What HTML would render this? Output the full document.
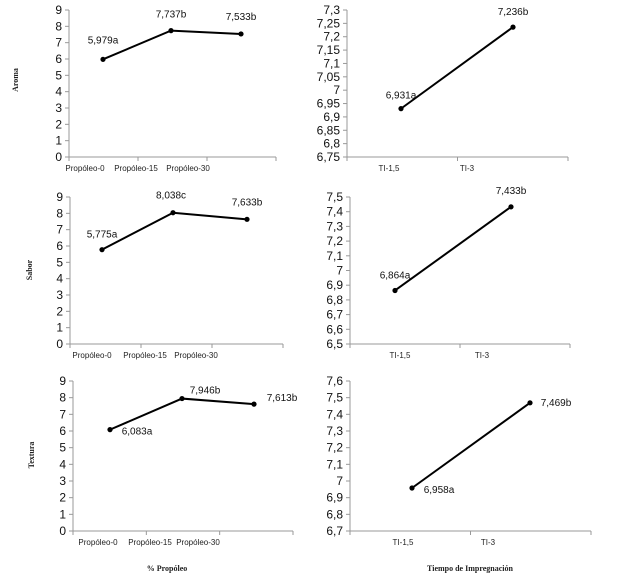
<!DOCTYPE html>
<html><head><meta charset="utf-8"><style>
body{margin:0;background:#fff;}
svg{display:block;font-family:"Liberation Sans",sans-serif;}
</style></head><body>
<svg id="c" width="617" height="586"></svg>
<script>
const propCats = ["Propóleo-0","Propóleo-15","Propóleo-30"];
const tiCats = ["TI-1,5","TI-3"];
const aromaValues = [5.979, 7.737, 7.533];
const aromaLabels = ["5,979a","7,737b","7,533b"];
const saborValues = [5.775, 8.038, 7.633];
const saborLabels = ["5,775a","8,038c","7,633b"];
const texturaValues = [6.083, 7.946, 7.613];
const texturaLabels = ["6,083a","7,946b","7,613b"];
const aromaTiValues = [6.931, 7.236];
const aromaTiLabels = ["6,931a","7,236b"];
const saborTiValues = [6.864, 7.433];
const saborTiLabels = ["6,864a","7,433b"];
const texturaTiValues = [6.958, 7.469];
const texturaTiLabels = ["6,958a","7,469b"];

const svg = document.getElementById('c');
const NS = "http://www.w3.org/2000/svg";
function mk(tag, attrs, parent){const e=document.createElementNS(NS,tag);for(const k in attrs)e.setAttribute(k,attrs[k]);(parent||svg).appendChild(e);return e;}
function txt(s,x,y,size,anchor,parent,extra){const t=mk('text',Object.assign({x:x,y:y,'font-size':size,'text-anchor':anchor||'middle',fill:'#222'},extra||{}),parent);t.textContent=s;return t;}

function panel(o){
  const g=mk('g',{});
  
  
  const y=v=>o.y0+(o.ymax-v)/(o.ymax-o.ymin)*(o.y1-o.y0);
  const ax=mk('line',{x1:o.x0,y1:o.y0,x2:o.x0,y2:o.y1,stroke:'#999','stroke-width':1},g);
  
  
  const bx=mk('line',{x1:o.x0,y1:o.y1,x2:o.x1,y2:o.y1,stroke:'#999','stroke-width':1},g);
  
  
  const n=Math.round((o.ymax-o.ymin)/o.step);
  for(let i=0;i<=n;i++){
    const v=o.ymin+i*o.step, yy=y(v);
    mk('line',{x1:o.x0-4,y1:yy,x2:o.x0,y2:yy,stroke:'#999'},g);
    const t=txt((Math.round(v*1000)/1000).toString().replace('.',','),o.x0-7,yy+4,12,'end',g,{fill:'#111'});
    
    
  }
  const nt=o.cats.length+(o.extraSeg||0);
  for(let i=0;i<=nt;i++){const xx=o.x0+i*(o.x1-o.x0)/nt;mk('line',{x1:xx,y1:o.y1,x2:xx,y2:o.y1+4,stroke:'#999'},g);}
  o.cats.forEach((c,i)=>{const t=txt(c,o.catX[i],o.y1+14,8,'middle',g);
    
    });
  const pts=o.vals.map((v,i)=>[o.px[i],y(v)]);
  const l=mk('polyline',{points:pts.map(p=>p.join(',')).join(' '),fill:'none',stroke:'#000','stroke-width':2},g);
  
  
  pts.forEach((p,i)=>{
    const c=mk('circle',{cx:p[0],cy:p[1],r:2.6,fill:'#000'},g);
    
    
    const t=txt(o.labels[i],p[0]+o.lo[i][0],p[1]+o.lo[i][1],10,'middle',g,{fill:'#111'});
    
    
  });
  if(o.ytitle){const t=txt(o.ytitle,0,0,8,'middle',g,{transform:`translate(${o.ytx},${o.yty}) rotate(-90)`,'font-weight':'bold','font-family':'Liberation Serif, serif'});
    
    }
}
panel({name:'aroma-propoleo-chart',x0:69,x1:276,y0:10,y1:157,ymin:0,ymax:9,step:1,cats:propCats,catX:[85,136,188],vals:aromaValues,labels:aromaLabels,px:[103,171,241],lo:[[0,-16],[0,-13],[0,-14]],ytitle:'Aroma',ytx:18,yty:80});
panel({name:'aroma-ti-chart',x0:347,x1:568,y0:10,y1:157,ymin:6.75,ymax:7.3,step:0.05,cats:tiCats,catX:[389,467],vals:aromaTiValues,labels:aromaTiLabels,px:[401,513],lo:[[0,-10],[0,-12]]});
panel({name:'sabor-propoleo-chart',x0:70,x1:283,y0:197,y1:344,ymin:0,ymax:9,step:1,cats:propCats,catX:[92,145,196],vals:saborValues,labels:saborLabels,px:[102,173,247],lo:[[0,-12],[-2,-14],[0,-14]],ytitle:'Sabor',ytx:32,yty:270});
panel({name:'sabor-ti-chart',x0:350,x1:570,y0:197,y1:344,ymin:6.5,ymax:7.5,step:0.1,cats:tiCats,catX:[400,482],vals:saborTiValues,labels:saborTiLabels,px:[395,511],lo:[[0,-12],[0,-13]]});
panel({name:'textura-propoleo-chart',x0:73,x1:293,y0:381,y1:531,ymin:0,ymax:9,step:1,cats:propCats,catX:[98,150,198],vals:texturaValues,labels:texturaLabels,px:[110,182,254],lo:[[27,5],[23,-5],[28,-3]],ytitle:'Textura',ytx:34,yty:455});
panel({name:'textura-ti-chart',x0:350,x1:591,y0:381,y1:531,ymin:6.7,ymax:7.6,step:0.1,cats:tiCats,catX:[403,488],vals:texturaTiValues,labels:texturaTiLabels,px:[412,530],lo:[[27,5],[26,3]]});
let t=txt('% Propóleo',167,571,8,'middle',svg,{'font-weight':'bold','font-family':'Liberation Serif, serif'});


t=txt('Tiempo de Impregnación',470,571,8,'middle',svg,{'font-weight':'bold','font-family':'Liberation Serif, serif'});


</script>
</body></html>
